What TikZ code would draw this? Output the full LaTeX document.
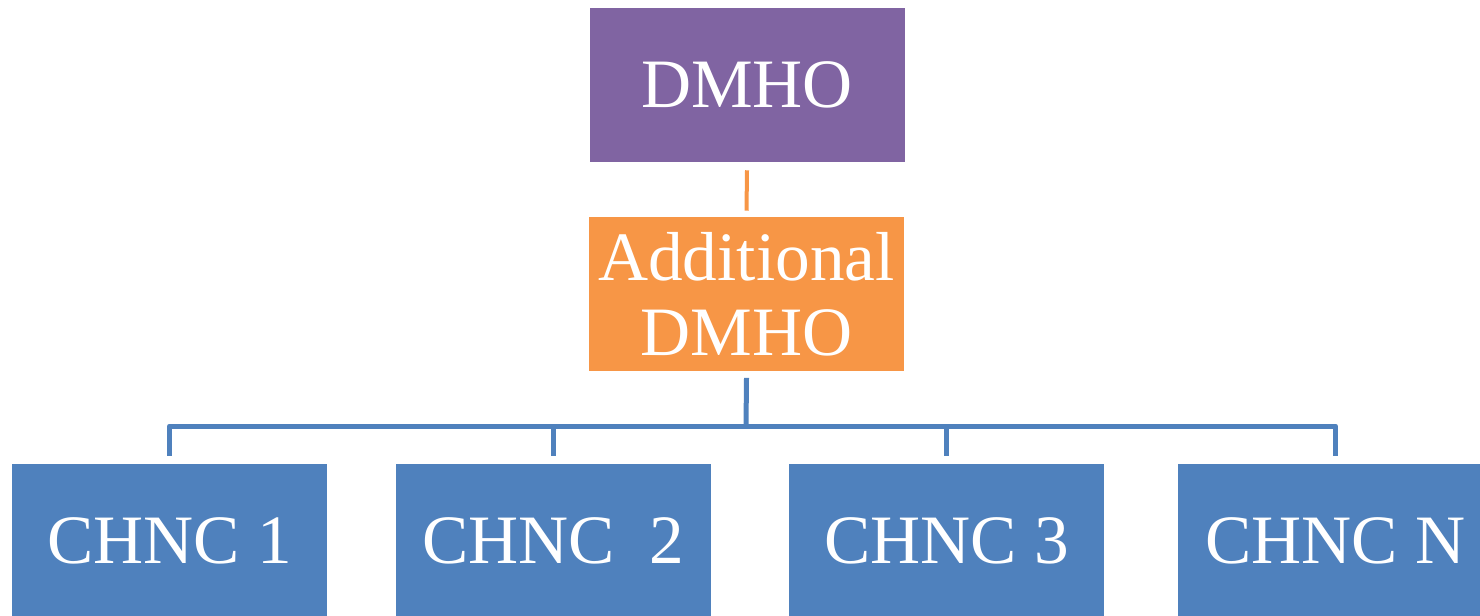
\documentclass[tikz,border=0pt]{standalone}
\usepackage{fontspec}
\setmainfont{Liberation Serif}
\definecolor{dpurple}{HTML}{8064A2}
\definecolor{dorange}{HTML}{F79646}
\definecolor{dblue}{HTML}{4F81BD}
\begin{document}
\begin{tikzpicture}[x=0.75pt,y=-0.75pt,
  box/.style={rectangle, inner sep=0pt, minimum width=236.25pt, minimum height=115.5pt,
    text=white, font=\fontsize{52}{56}\selectfont, align=center},
  oline/.style={draw=dorange, line width=3pt},
  bline/.style={draw=dblue, line width=3.75pt, line join=round}]
\useasboundingbox (0,0) rectangle (1480,616);
\clip (0,0) rectangle (1480,616);
\node[box, fill=dpurple] (top) at (747,85) {DMHO};
\node[box, fill=dorange] (add) at (746.5,294) {Additional\\DMHO};
\node[box, fill=dblue] (c1) at (169.5,541) {CHNC 1};
\node[box, fill=dblue] (c2) at (553,541) {CHNC\ \ 2};
\node[box, fill=dblue] (c3) at (946.5,541) {CHNC 3};
\node[box, fill=dblue] (c4) at (1335.5,541) {CHNC N};
\coordinate (bus) at (746,426);
\draw[oline] ([yshift=-6pt]top.south) -- ([yshift=4.5pt]add.north);
\draw[bline] ([yshift=-5pt]add.south) -- (bus);
\draw[bline] ([yshift=6pt]c1.north) -- (c1.north |- bus) -- (c4.north |- bus) -- ([yshift=6pt]c4.north);
\draw[bline] ([yshift=6pt]c2.north) -- (c2.north |- bus);
\draw[bline] ([yshift=6pt]c3.north) -- (c3.north |- bus);
\end{tikzpicture}
\end{document}
